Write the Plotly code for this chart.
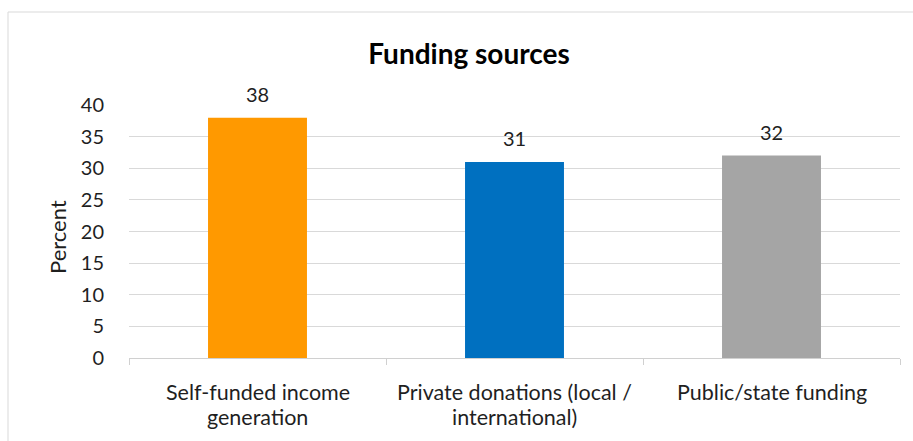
import plotly.graph_objects as go

# Category labels, one list entry per line of text
category_lines = [["Self-funded income", "generation"],
                  ["Private donations (local /", "international)"],
                  ["Public/state funding"]]
categories = ["Self-funded", "Private donations", "Public/state"]
values = [38, 31, 32]
colors = ["#FF9900", "#0070C0", "#A5A5A5"]
y_ticks = [0, 5, 10, 15, 20, 25, 30, 35, 40]

W, H = 913, 441
L, R, T, B = 129, 13, 105, 83
pw, ph = W - L - R, H - T - B
FONT = "Lato"
TXT = "#1F1F1F"


def py(pixel_y):
    """Convert a pixel row (from top of page) to paper y."""
    return (H - B - pixel_y) / ph


def px(pixel_x):
    return (pixel_x - L) / pw


fig = go.Figure(go.Bar(
    x=categories, y=values,
    marker=dict(color=colors, line=dict(width=0)),
    width=0.385,
    hoverinfo="skip",
))

annotations = []
# value labels above the bars
for cat, v in zip(categories, values):
    annotations.append(dict(
        x=cat, y=v, xref="x", yref="y", text=str(v), showarrow=False,
        yanchor="middle", yshift=24,
        font=dict(size=20, color=TXT, family=FONT),
    ))
# category labels below the axis
line_rows = [392, 417]
for cat, lines in zip(categories, category_lines):
    for i, line in enumerate(lines):
        annotations.append(dict(
            x=cat, y=py(line_rows[i]), xref="x", yref="paper", text=line,
            showarrow=False, yanchor="middle",
            font=dict(size=21.5, color=TXT, family=FONT),
        ))
# y axis title
annotations.append(dict(
    x=px(57), y=py(237), xref="paper", yref="paper", text="Percent",
    showarrow=False, textangle=-90, xanchor="center", yanchor="middle",
    font=dict(size=22, color=TXT, family=FONT),
))

fig.update_layout(
    width=W, height=H,
    margin=dict(l=L, r=R, t=T, b=B),
    paper_bgcolor="white", plot_bgcolor="white",
    font=dict(family=FONT, color=TXT),
    showlegend=False,
    title=dict(text="<b>Funding sources</b>", x=469 / W, xanchor="center",
               y=1 - 54 / H, yanchor="middle",
               font=dict(size=28, color="#000000", family=FONT)),
    xaxis=dict(
        showline=True, linecolor="#D0D0D0", linewidth=1,
        ticks="outside", tickson="boundaries", ticklen=6, tickcolor="#D0D0D0",
        showticklabels=False, showgrid=False,
    ),
    yaxis=dict(
        range=[0, 40], tickvals=y_ticks,
        showgrid=True, gridcolor="#D9D9D9", gridwidth=1,
        zeroline=False, showline=False,
        tickfont=dict(size=20, color=TXT, family=FONT),
        ticklabelstandoff=24,
    ),
    annotations=annotations,
    shapes=[dict(
        type="rect", xref="paper", yref="paper",
        x0=px(8), x1=px(W + 20),
        y0=py(H + 20), y1=py(12),
        line=dict(color="#D9D9D9", width=1), fillcolor="rgba(0,0,0,0)",
        layer="below",
    )],
)

fig.write_html("out.html")
